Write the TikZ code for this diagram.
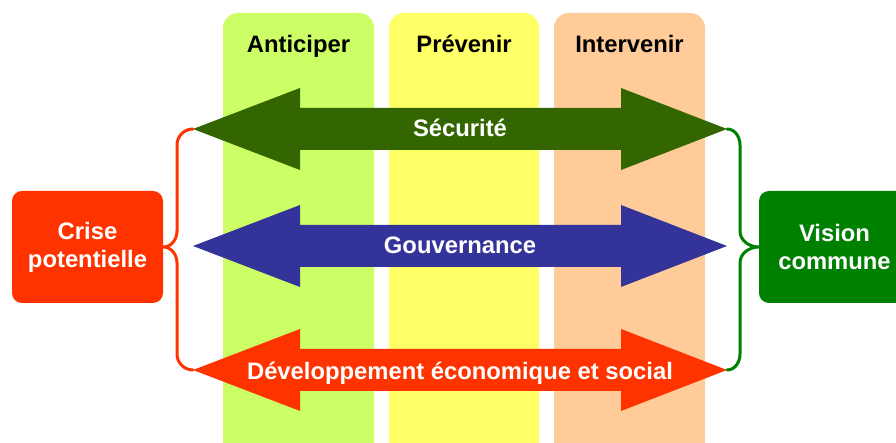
\documentclass[tikz,border=0pt]{standalone}
\usepackage{fontspec}
\setmainfont{Liberation Sans}
\definecolor{colA}{HTML}{CCFF66}
\definecolor{colB}{HTML}{FFFF66}
\definecolor{colC}{HTML}{FFCC99}
\definecolor{secu}{HTML}{336600}
\definecolor{gouv}{HTML}{333399}
\definecolor{dev}{HTML}{FF3300}
\definecolor{vis}{HTML}{008000}
\tikzset{
  colbox/.style={rounded corners=15pt},
  lbl/.style={font=\fontsize{23.8}{28}\selectfont\bfseries, inner sep=0pt, anchor=base},
  sidebox/.style={rounded corners=10pt, minimum width=151pt, minimum height=112pt, inner sep=0pt,
    align=center, text=white, font=\fontsize{23.8}{28}\selectfont\bfseries},
  bracestyle/.style={line width=3pt, line cap=round}
}
\begin{document}
\begin{tikzpicture}[x=1pt,y=1pt]
\useasboundingbox (0,0) rectangle (896,443);
\clip (0,0) rectangle (896,443);
% columns
\fill[colA, colbox] (223,-20) rectangle (374,430);
\fill[colB, colbox] (389,-20) rectangle (539,430);
\fill[colC, colbox] (554,-20) rectangle (705,430);
\node[lbl] (hA) at (298.5,390) {Anticiper};
\node[lbl] (hB) at (464,390) {Prévenir};
\node[lbl] (hC) at (629.5,390) {Intervenir};
% arrows
\foreach \c/\col in {314/secu, 197/gouv, 73/dev}{
  \fill[\col] (193,\c) -- (300,\c+41) -- (300,\c+21) -- (621,\c+21) -- (621,\c+41) -- (727,\c)
    -- (621,\c-41) -- (621,\c-21) -- (300,\c-21) -- (300,\c-41) -- cycle;
}
\node[lbl, text=white] (tS) at (460,306) {Sécurité};
\node[lbl, text=white] (tG) at (460,189) {Gouvernance};
\node[lbl, text=white] (tD) at (460,63) {Développement économique et social};
% side boxes
\node[sidebox, fill=dev] (crise) at (87.5,196) {Crise\\potentielle};
\node[sidebox, fill=vis] (vision) at (834.5,196) {Vision\\commune};
% braces
\coordinate (lt) at (193,314);
\coordinate (lb) at (193,73);
\coordinate (rt) at (727,314);
\coordinate (rb) at (727,73);
\draw[bracestyle, dev] (lt) to[out=180,in=90] (177,298) -- (177,212)
  to[out=-90,in=0] (crise.east) to[out=0,in=90] (177,180) -- (177,89) to[out=-90,in=180] (lb);
\draw[bracestyle, vis] (rt) to[out=0,in=90] (740,298) -- (740,212)
  to[out=-90,in=180] (vision.west) to[out=180,in=90] (740,180) -- (740,89) to[out=-90,in=0] (rb);
\end{tikzpicture}
\end{document}
